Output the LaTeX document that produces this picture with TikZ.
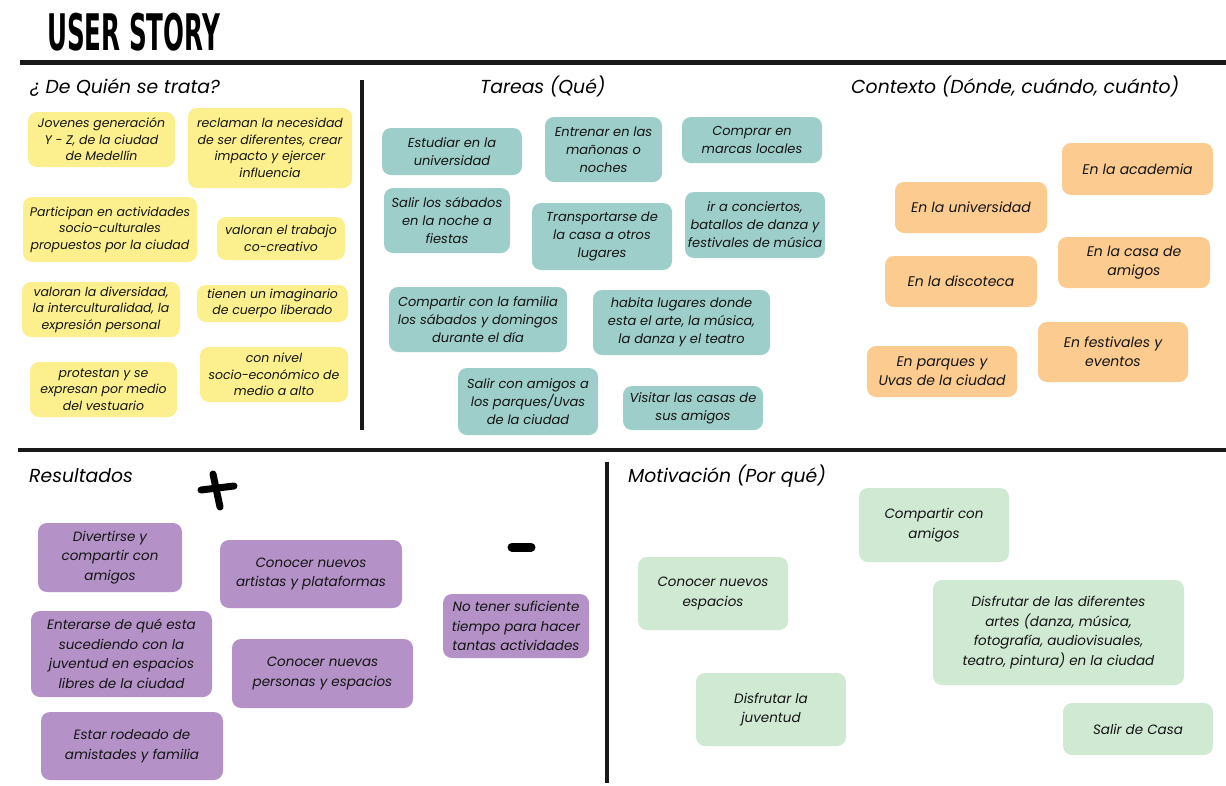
\documentclass[tikz,border=0pt]{standalone}
\usepackage{fontspec}
\usepackage{graphicx}
\setmainfont{Poppins}
\newfontfamily\titlefont{DejaVu Sans Condensed}
\usetikzlibrary{positioning}

\definecolor{noteyellow}{RGB}{252,240,142}
\definecolor{noteteal}{RGB}{158,206,202}
\definecolor{noteorange}{RGB}{251,203,143}
\definecolor{notepurple}{RGB}{180,146,200}
\definecolor{notegreen}{RGB}{208,233,211}

\tikzset{
    % Sticky note base
    note/.style={rounded corners=9pt,align=center,inner sep=1pt,text=black!92,
        font=\itshape\fontsize{12.5}{16.5}\selectfont},
    % Note colours per section
    yellownote/.style={note,fill=noteyellow},
    tealnote/.style={note,fill=noteteal,font=\itshape\fontsize{13}{18}\selectfont},
    orangenote/.style={note,fill=noteorange,font=\itshape\fontsize{14}{19}\selectfont},
    purplenote/.style={note,fill=notepurple,font=\itshape\fontsize{13.5}{19.5}\selectfont},
    greennote/.style={note,fill=notegreen,font=\itshape\fontsize{13.5}{19.5}\selectfont},
    % Section heading
    heading/.style={anchor=base west,inner sep=0pt,font=\itshape\fontsize{18.8}{20}\selectfont},
    % Divider lines
    divider/.style={line width=4pt,black!90},
    % Hand drawn sign
    marker/.style={line width=7pt,line cap=round,black}
}

\begin{document}
\begin{tikzpicture}[x=1pt,y=-1pt]
    \useasboundingbox[fill=white] (0,0) rectangle (1226,785);

    % Title
    \node[anchor=base west,inner sep=0pt] (title) at (47,50)
        {\scalebox{0.57}[1.05]{\titlefont\bfseries\fontsize{48}{48}\selectfont USER STORY}};

    % Dividers
    \draw[divider,line width=5pt] (20,62) -- (1226,62);
    \draw[divider] (362,80) -- (362,430);
    \draw[divider] (18,450) -- (1226,450);
    \draw[divider] (607,462) -- (607,783);

    % Headings
    \node[heading] (quien) at (30,93) {¿ De Quién se trata?};
    \node[heading] (tareas) at (480,93) {Tareas (Qué)};
    \node[heading] (contexto) at (851,93) {Contexto (Dónde, cuándo, cuánto)};
    \node[heading] (resultados) at (29,482) {Resultados};
    \node[heading] (motivacion) at (628,482) {Motivación (Por qué)};

    % Who (yellow)
    \node[yellownote,minimum width=147,minimum height=55] (jovenes) at (101.5,139.5)
        {Jovenes generación\\Y - Z, de la ciudad\\de Medellín};
    \node[yellownote,minimum width=164,minimum height=80] (reclaman) at (270,148)
        {reclaman la necesidad\\de ser diferentes, crear\\impacto y ejercer\\influencia};
    \node[yellownote,minimum width=174,minimum height=65] (participan) at (110,229.5)
        {Participan en actividades\\socio-culturales\\propuestos por la ciudad};
    \node[yellownote,minimum width=128,minimum height=43] (cocreativo) at (281,238.5)
        {valoran el trabajo\\co-creativo};
    \node[yellownote,minimum width=158,minimum height=55] (diversidad) at (101,309.5)
        {valoran la diversidad,\\la interculturalidad, la\\expresión personal};
    \node[yellownote,minimum width=151,minimum height=37] (imaginario) at (272.5,303.5)
        {tienen un imaginario\\de cuerpo liberado};
    \node[yellownote,minimum width=147,minimum height=55] (protestan) at (103.5,389.5)
        {protestan y se\\expresan por medio\\del vestuario};
    \node[yellownote,minimum width=148,minimum height=55] (nivel) at (274,374.5)
        {con nivel\\socio-económico de\\medio a alto};

    % Tasks (teal)
    \node[tealnote,minimum width=140,minimum height=47] (estudiar) at (452,151.5)
        {Estudiar en la\\universidad};
    \node[tealnote,minimum width=117,minimum height=65] (entrenar) at (603.5,149.5)
        {Entrenar en las\\mañonas o\\noches};
    \node[tealnote,minimum width=140,minimum height=46] (comprar) at (752,140)
        {Comprar en\\marcas locales};
    \node[tealnote,minimum width=126,minimum height=65] (sabados) at (447,220.5)
        {Salir los sábados\\en la noche a\\fiestas};
    \node[tealnote,minimum width=140,minimum height=67] (transporte) at (602,236.5)
        {Transportarse de\\la casa a otros\\lugares};
    \node[tealnote,minimum width=140,minimum height=66] (conciertos) at (755,225)
        {ir a conciertos,\\batallos de danza y\\festivales de música};
    \node[tealnote,minimum width=178,minimum height=65] (familia) at (478,319.5)
        {Compartir con la familia\\los sábados y domingos\\durante el día};
    \node[tealnote,minimum width=177,minimum height=65] (habita) at (681.5,322.5)
        {habita lugares donde\\esta el arte, la música,\\la danza y el teatro};
    \node[tealnote,minimum width=140,minimum height=67] (parques) at (528,401.5)
        {Salir con amigos a\\los parques/Uvas\\de la ciudad};
    \node[tealnote,minimum width=140,minimum height=44] (visitar) at (693,408)
        {Visitar las casas de\\sus amigos};

    % Context (orange)
    \node[orangenote,minimum width=151,minimum height=52] (academia) at (1137.5,169)
        {En la academia};
    \node[orangenote,minimum width=152,minimum height=51] (universidad) at (971,207.5)
        {En la universidad};
    \node[orangenote,minimum width=152,minimum height=51] (casa) at (1134,262.5)
        {En la casa de\\amigos};
    \node[orangenote,minimum width=152,minimum height=51] (discoteca) at (961,281.5)
        {En la discoteca};
    \node[orangenote,minimum width=150,minimum height=60] (festivales) at (1113,352)
        {En festivales y\\eventos};
    \node[orangenote,minimum width=150,minimum height=51] (uvas) at (942,371.5)
        {En parques y\\Uvas de la ciudad};

    % Results (purple)
    \draw[marker] (201,490) -- (234,486);
    \draw[marker] (213,474) -- (220,507);
    \draw[marker,line width=9pt] (512,547) -- (531,547);
    \node[purplenote,minimum width=144,minimum height=69] (divertirse) at (110,557.5)
        {Divertirse y\\compartir con\\amigos};
    \node[purplenote,minimum width=182,minimum height=68] (artistas) at (311,574)
        {Conocer nuevos\\artistas y plataformas};
    \node[purplenote,minimum width=181,minimum height=86] (enterarse) at (121.5,654)
        {Enterarse de qué esta\\sucediendo con la\\juventud en espacios\\libres de la ciudad};
    \node[purplenote,minimum width=181,minimum height=69] (personas) at (322.5,673.5)
        {Conocer nuevas\\personas y espacios};
    \node[purplenote,minimum width=182,minimum height=68] (rodeado) at (132,746)
        {Estar rodeado de\\amistades y familia};
    \node[purplenote,minimum width=146,minimum height=64] (tiempo) at (516,626)
        {No tener suficiente\\tiempo para hacer\\tantas actividades};

    % Motivation (green)
    \node[greennote,minimum width=150,minimum height=74] (compartir) at (934,525)
        {Compartir con\\amigos};
    \node[greennote,minimum width=150,minimum height=73] (espacios) at (713,593.5)
        {Conocer nuevos\\espacios};
    \node[greennote,minimum width=251,minimum height=105] (artes) at (1058.5,632.5)
        {Disfrutar de las diferentes\\artes (danza, música,\\fotografía, audiovisuales,\\teatro, pintura) en la ciudad};
    \node[greennote,minimum width=150,minimum height=73] (juventud) at (771,709.5)
        {Disfrutar la\\juventud};
    \node[greennote,minimum width=150,minimum height=52] (salir) at (1138,729)
        {Salir de Casa};
\end{tikzpicture}
\end{document}
